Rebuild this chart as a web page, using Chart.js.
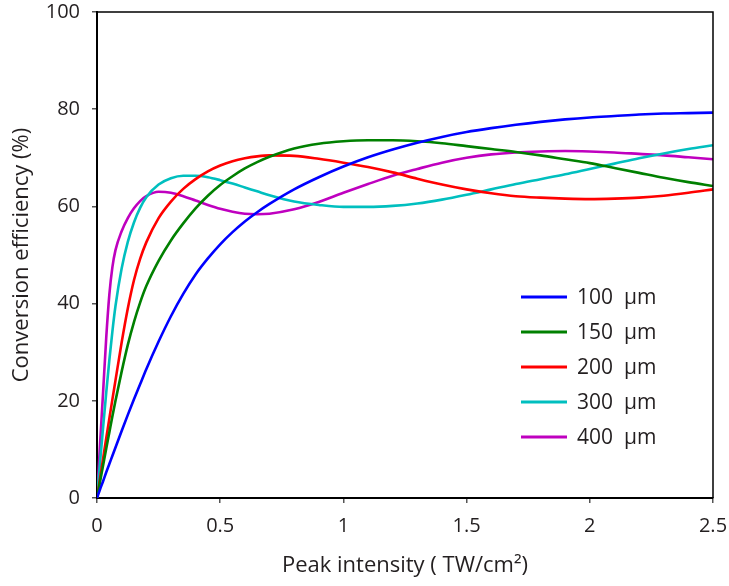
<!DOCTYPE html>
<html>
<head>
<meta charset="utf-8">
<script src="https://cdn.jsdelivr.net/npm/chart.js@4/dist/chart.umd.min.js"></script>
<style>
  html, body { margin: 0; padding: 0; background: #fff; }
  #wrap { width: 729px; height: 586px; position: relative; }
</style>
</head>
<body>
<div id="wrap"><canvas id="c" width="729" height="586"></canvas></div>
<script>
// Peak intensity (TW/cm^2)
const xs = [0, 0.0125, 0.025, 0.0375, 0.05, 0.0625, 0.075, 0.1, 0.125, 0.15, 0.175, 0.2,
  0.25, 0.3, 0.35, 0.4, 0.45, 0.5, 0.55, 0.6, 0.65, 0.7,
  0.8, 0.9, 1.0, 1.1, 1.2, 1.3, 1.4, 1.5, 1.6, 1.7, 1.8, 1.9, 2.0, 2.1, 2.2, 2.3, 2.4, 2.5];

// Conversion efficiency (%)
const eff100 = [0, 1.8, 3.5, 5.3, 7, 8.7, 10.4, 13.8, 17.1, 20.3, 23.4, 26.5,
  32.2, 37.4, 42, 46, 49.3, 52.2, 54.7, 56.9, 58.8, 60.5,
  63.5, 66, 68.2, 70.1, 71.7, 73.1, 74.3, 75.3, 76.1, 76.8, 77.4, 77.9, 78.3, 78.6, 78.9, 79.1, 79.2, 79.3];
const eff150 = [0, 3.4, 6.8, 10.2, 13.5, 16.8, 20, 26, 31.5, 36.2, 40.2, 43.6,
  48.8, 53, 56.5, 59.6, 62.2, 64.4, 66.2, 67.8, 69.1, 70.2,
  71.9, 72.9, 73.4, 73.6, 73.6, 73.4, 73, 72.4, 71.8, 71.2, 70.5, 69.7, 68.9, 67.9, 66.9, 65.9, 65, 64.2];
const eff200 = [0, 4.1, 8.2, 12.3, 16.3, 20.3, 24.2, 32, 39, 44.8, 49.2, 52.6,
  57.6, 61, 63.6, 65.6, 67.2, 68.4, 69.3, 69.9, 70.3, 70.5,
  70.4, 69.8, 69, 68.1, 67, 65.7, 64.5, 63.5, 62.7, 62.1, 61.8, 61.6, 61.5, 61.6, 61.8, 62.2, 62.8, 63.5];
const eff300 = [0, 7.4, 14.7, 21.7, 28.3, 34.3, 39.5, 47.2, 52.7, 56.7, 59.7, 61.9,
  64.5, 65.8, 66.3, 66.3, 66, 65.4, 64.7, 63.9, 63.1, 62.3,
  61, 60.3, 59.9, 59.9, 60.1, 60.6, 61.4, 62.4, 63.5, 64.6, 65.6, 66.6, 67.7, 68.8, 69.9, 70.9, 71.8, 72.6];
const eff400 = [0, 11.2, 22, 33, 41.8, 47.5, 51, 54.9, 57.6, 59.6, 61.1, 62.1,
  63, 62.8, 62.1, 61.2, 60.3, 59.5, 58.9, 58.5, 58.4, 58.5,
  59.4, 60.9, 62.8, 64.6, 66.3, 67.7, 69, 70, 70.7, 71.1, 71.3, 71.4, 71.3, 71.1, 70.8, 70.5, 70.1, 69.7];

const seriesLabels = ['100  µm', '150  µm', '200  µm', '300  µm', '400  µm'];
const seriesColors = ['#0000ff', '#008000', '#ff0000', '#00bfbf', '#bf00bf'];
const seriesValues = [eff100, eff150, eff200, eff300, eff400];

const xTickLabels = ['0', '0.5', '1', '1.5', '2', '2.5'];
const yTickLabels = ['0', '20', '40', '60', '80', '100'];

const FONT = "'Open Sans', 'Noto Sans', 'DejaVu Sans', sans-serif";
const TEXT = '#231f20';

const datasets = seriesValues.map((vals, k) => ({
  label: seriesLabels[k],
  data: xs.map((x, i) => ({ x: x, y: vals[i] })),
  borderColor: seriesColors[k],
  backgroundColor: seriesColors[k],
  borderWidth: 2.6,
  pointRadius: 0,
  cubicInterpolationMode: 'monotone',
  fill: false
}));

const framePlugin = {
  id: 'frame',
  afterDatasetsDraw(chart) {
    const { ctx, chartArea: a } = chart;
    ctx.save();
    ctx.strokeStyle = '#000';
    ctx.lineWidth = 1.5;
    ctx.beginPath();
    ctx.moveTo(a.left, a.top);
    ctx.lineTo(a.right, a.top);
    ctx.lineTo(a.right, a.bottom);
    ctx.stroke();
    ctx.restore();
  }
};

const legendPlugin = {
  id: 'insideLegend',
  afterDatasetsDraw(chart) {
    const { ctx, chartArea: a } = chart;
    ctx.save();
    const x0 = a.right - 192;
    const y0 = a.top + 285;
    chart.data.datasets.forEach((ds, i) => {
      const y = y0 + i * 35;
      ctx.strokeStyle = ds.borderColor;
      ctx.lineWidth = 3;
      ctx.beginPath();
      ctx.moveTo(x0, y);
      ctx.lineTo(x0 + 46, y);
      ctx.stroke();
      ctx.fillStyle = TEXT;
      ctx.font = "21px " + FONT;
      ctx.textBaseline = 'middle';
      ctx.textAlign = 'left';
      ctx.fillText(ds.label, x0 + 56, y + 1);
    });
    ctx.restore();
  }
};

new Chart(document.getElementById('c'), {
  type: 'line',
  data: { datasets },
  options: {
    responsive: false,
    animation: false,
    layout: { padding: { left: 0, right: 16, top: 12, bottom: 0 } },
    plugins: { legend: { display: false }, tooltip: { enabled: false } },
    scales: {
      x: {
        type: 'linear',
        min: 0, max: 2.5,
        afterFit(scale) { scale.height = 88; scale.paddingLeft = 0; scale.paddingRight = 0; },
        afterBuildTicks(scale) {
          scale.ticks = xTickLabels.map(v => ({ value: parseFloat(v) }));
        },
        ticks: {
          color: TEXT,
          font: { family: FONT, size: 20 },
          padding: 11,
          maxRotation: 0,
          callback: (v, i) => xTickLabels[i]
        },
        grid: { drawOnChartArea: false, drawTicks: true, tickLength: 5, color: '#555', lineWidth: 1.5 },
        border: { display: true, color: '#000', width: 2 },
        title: {
          display: true,
          text: 'Peak intensity ( TW/cm²)',
          color: TEXT,
          font: { family: FONT, size: 22 },
          padding: { top: 0, bottom: 7 }
        }
      },
      y: {
        type: 'linear',
        min: 0, max: 100,
        afterFit(scale) { scale.width = 97; scale.paddingTop = 0; scale.paddingBottom = 0; },
        afterBuildTicks(scale) {
          scale.ticks = yTickLabels.map(v => ({ value: parseFloat(v) }));
        },
        ticks: {
          color: TEXT,
          font: { family: FONT, size: 20 },
          padding: 12,
          callback: (v, i) => yTickLabels[i]
        },
        grid: { drawOnChartArea: false, drawTicks: true, tickLength: 5, color: '#555', lineWidth: 1.5 },
        border: { display: true, color: '#000', width: 2 },
        title: {
          display: true,
          text: 'Conversion efficiency (%)',
          color: TEXT,
          font: { family: FONT, size: 22 },
          padding: { top: 9, bottom: 0 }
        }
      }
    }
  },
  plugins: [framePlugin, legendPlugin]
});
</script>
</body>
</html>
